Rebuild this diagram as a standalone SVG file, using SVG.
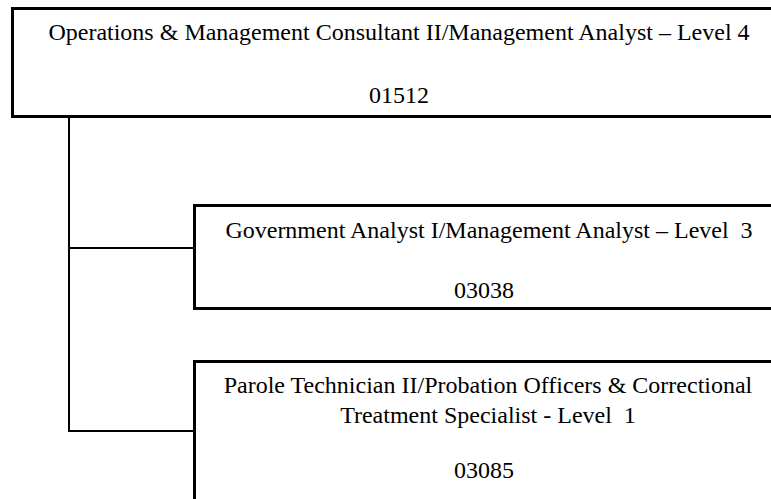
<svg xmlns="http://www.w3.org/2000/svg" width="771" height="499" viewBox="0 0 771 499">
  <style>
    .box { fill: #ffffff; stroke: #000000; stroke-width: 3; }
    .lbl { font-family: "Liberation Serif", "Times New Roman", serif; font-size: 24px; fill: #000000; text-anchor: middle; white-space: pre; }
    .link { fill: none; stroke: #000000; stroke-width: 2; }
  </style>
  <rect width="771" height="499" fill="#ffffff"/>

  <!-- connectors -->
  <g id="connectors">
    <path class="link" d="M69,117 V431 H194"/>
    <path class="link" d="M69,248 H194"/>
  </g>

  <!-- level 4 -->
  <g id="node-01512">
    <rect class="box" x="12.5" y="8.5" width="800" height="108"/>
    <text class="lbl" x="399" y="40">Operations &amp; Management Consultant II/Management Analyst – Level 4</text>
    <text class="lbl" x="399" y="103">01512</text>
  </g>

  <!-- level 3 -->
  <g id="node-03038">
    <rect class="box" x="194.5" y="205.5" width="620" height="103"/>
    <text class="lbl" x="489" y="238" xml:space="preserve">Government Analyst I/Management Analyst – Level  3</text>
    <text class="lbl" x="484" y="298">03038</text>
  </g>

  <!-- level 1 -->
  <g id="node-03085">
    <rect class="box" x="194.5" y="361.5" width="620" height="160"/>
    <text class="lbl" x="488" y="393">Parole Technician II/Probation Officers &amp; Correctional</text>
    <text class="lbl" x="488" y="423" xml:space="preserve">Treatment Specialist - Level  1</text>
    <text class="lbl" x="484" y="478">03085</text>
  </g>
</svg>
